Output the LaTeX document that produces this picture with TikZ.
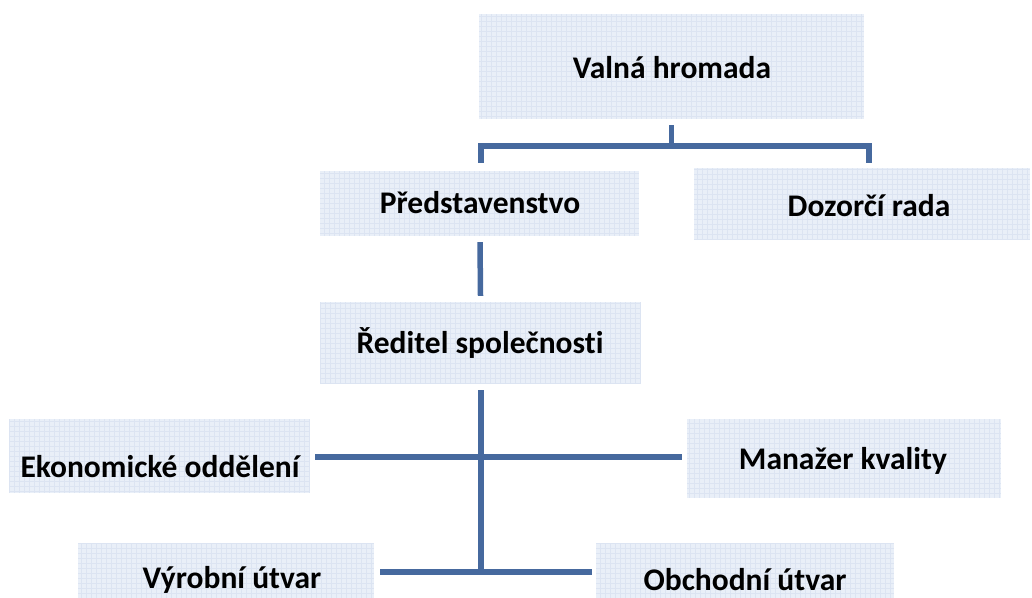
\documentclass[tikz,border=0pt]{standalone}
\usepackage{fontspec}
\setmainfont{Carlito}[Ligatures={NoCommon}]
\usetikzlibrary{calc}
\definecolor{boxfill}{HTML}{E9EFF8}
\definecolor{boxgrid}{HTML}{DCE4F2}
\definecolor{linkblue}{HTML}{46699E}
\tikzset{
  unit/.style={rectangle, inner sep=0pt, fill=boxfill,
    path picture={\draw[boxgrid, line width=0.7pt]
      (path picture bounding box.south west) grid[step=5pt]
      (path picture bounding box.north east);}},
  lbl/.style={inner sep=0pt, font=\fontsize{31.5}{36}\selectfont\bfseries, text=black},
  conn/.style={draw=linkblue, line width=5.5pt, line join=miter, line cap=butt}
}
\begin{document}
\begin{tikzpicture}[x=1pt, y=-1pt]
\useasboundingbox (0,0) rectangle (1032,597);
\clip (0,0) rectangle (1032,597);
% boxes
\node[unit, minimum width=385pt, minimum height=105pt] (valna)   at (671.5,66.5) {};
\node[unit, minimum width=319pt, minimum height=65pt]  (pred)    at (479.5,203.5) {};
\node[unit, minimum width=336pt, minimum height=72pt]  (dozor)   at (862,204) {};
\node[unit, minimum width=321pt, minimum height=82pt]  (reditel) at (480.5,343) {};
\node[unit, minimum width=301pt, minimum height=74pt]  (ekon)    at (159.5,456) {};
\node[unit, minimum width=314pt, minimum height=79pt]  (manaz)   at (844,458.5) {};
\node[unit, minimum width=296pt, minimum height=80pt]  (vyrob)   at (226,583) {};
\node[unit, minimum width=298pt, minimum height=80pt]  (obchod)  at (745,583) {};
% labels
\node[lbl] (valnat)   at (672,68)  {Valná hromada};
\node[lbl] (predt)    at (480,203) {Představenstvo};
\node[lbl] (dozort)   at (869,206) {Dozorčí rada};
\node[lbl] (reditelt) at (480,343) {Ředitel společnosti};
\node[lbl] (ekont)    at (160,467) {Ekonomické oddělení};
\node[lbl] (manazt)   at (843,461) {Manažer kvality};
\node[lbl] (vyrobt)   at (232,580) {Výrobní útvar};
\node[lbl] (obchodt)  at (745,580) {Obchodní útvar};
% top bracket
\coordinate (j1) at ($(valna.south)+(0,27)$);
\coordinate (pt) at ($(pred.north)+(1.5,-8)$);
\coordinate (dt) at ($(dozor.north -| dozort)+(0,-5)$);
\draw[conn] ($(valna.south)+(0,6)$) -- (j1);
\draw[conn] (pt) |- (j1) -| (dt);
% board to director
\draw[conn] ($(pred.south)+(0.5,6)$) -- ($(reditel.north)+(0,-6)$);
% director trunk
\coordinate (j2) at ($(reditel.south)+(0.5,188)$);
\draw[conn] ($(reditel.south)+(0.5,6)$) -- (j2);
% staff line
\coordinate (el) at ($(ekon.east)+(5,1)$);
\coordinate (mr) at ($(manaz.west)+(-5,0)$);
\draw[conn] (el) -- (el -| mr);
% line departments
\coordinate (vr) at ($(vyrob.east)+(6,0)$);
\coordinate (ol) at ($(obchod.west)+(-4,0)$);
\draw[conn] (vr |- j2) -- (ol |- j2);
\end{tikzpicture}
\end{document}
